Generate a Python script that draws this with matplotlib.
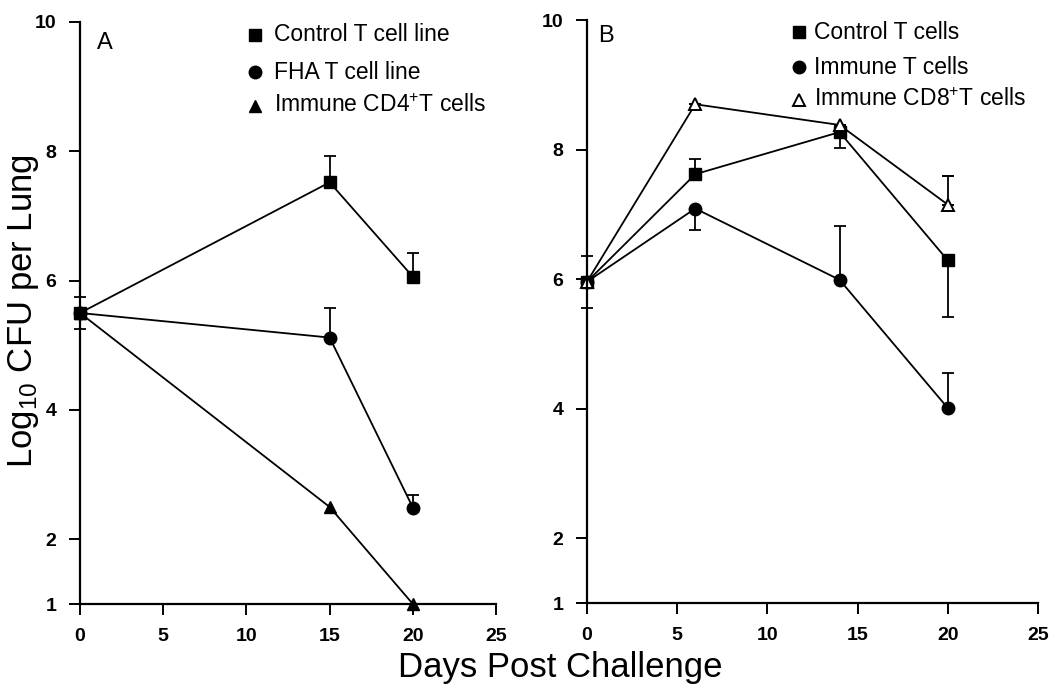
import matplotlib
matplotlib.use("Agg")
import matplotlib.pyplot as plt

plt.rcParams["font.family"] = ["Liberation Sans", "DejaVu Sans"]
plt.rcParams["mathtext.default"] = "regular"

# Panel A data
days_a = [0, 15, 20]
control_a = [5.5, 7.52, 6.06]
control_a_up = [0.25, 0.40, 0.37]
control_a_lo = [0.25, 0.0, 0.0]
fha_a = [5.5, 5.12, 2.49]
fha_a_up = [0.0, 0.46, 0.19]
cd4_a = [5.5, 2.5, 1.0]

# Panel B data
days_b = [0, 6, 14, 20]
control_b = [5.96, 7.62, 8.27, 6.29]
control_b_up = [0.39, 0.23, 0.0, 0.0]
control_b_lo = [0.40, 0.0, 0.24, 0.88]
immune_b = [5.96, 7.09, 5.99, 4.01]
immune_b_up = [0.0, 0.0, 0.83, 0.54]
immune_b_lo = [0.0, 0.33, 0.0, 0.0]
cd8_b = [5.96, 8.70, 8.38, 7.15]
cd8_b_up = [0.0, 0.0, 0.0, 0.44]

labels_a = ["Control T cell line", "FHA T cell line", "Immune CD4$^{+}$T cells"]
labels_b = ["Control T cells", "Immune T cells", "Immune CD8$^{+}$T cells"]

yticks = [1, 2, 4, 6, 8, 10]
xticks = [0, 5, 10, 15, 20, 25]

fig = plt.figure(figsize=(10.49, 6.91), dpi=100)
ax_a = fig.add_axes([0.0763, 0.1259, 0.3966, 0.8423])
ax_b = fig.add_axes([0.5596, 0.1273, 0.4299, 0.8437])

line_kw = dict(color="black", lw=1.3, clip_on=False, capsize=4,
               elinewidth=1.3, capthick=1.3)

sq = dict(marker="s", ms=8)
ci = dict(marker="o", ms=9)
tri = dict(marker="^", ms=9)
otri = dict(marker="^", ms=8, mfc="white", mew=1.4)

# Panel A
ax_a.errorbar(days_a, control_a, yerr=[control_a_lo, control_a_up], **sq, **line_kw)
ax_a.errorbar(days_a, fha_a, yerr=[[0] * 3, fha_a_up], **ci, **line_kw)
ax_a.errorbar(days_a, cd4_a, **tri, **line_kw)

# Panel B
ax_b.errorbar(days_b, control_b, yerr=[control_b_lo, control_b_up], **sq, **line_kw)
ax_b.errorbar(days_b, immune_b, yerr=[immune_b_lo, immune_b_up], **ci, **line_kw)
ax_b.errorbar(days_b, cd8_b, yerr=[[0] * 4, cd8_b_up], **otri, **line_kw)

panels = [
    (ax_a, "A", (0.041, 0.983), labels_a, [sq, ci, tri], 0.421, 0.466, [0.978, 0.914, 0.856]),
    (ax_b, "B", (0.024, 0.991), labels_b, [sq, ci, otri], 0.470, 0.503, [0.979, 0.919, 0.863]),
]

for ax, letter, pos, labels, styles, mx, tx, rows in panels:
    ax.set_xlim(0, 25)
    ax.set_ylim(1, 10)
    ax.set_xticks(xticks)
    ax.set_yticks(yticks)
    ax.spines["top"].set_visible(False)
    ax.spines["right"].set_visible(False)
    for s in ["left", "bottom"]:
        ax.spines[s].set_linewidth(1.6)
    ax.tick_params(direction="out", length=8, width=1.4, labelsize=14, pad=9)
    for lab in ax.get_xticklabels() + ax.get_yticklabels():
        lab.set_fontweight("bold")
    ax.text(pos[0], pos[1], letter, transform=ax.transAxes,
            fontsize=17, va="top", ha="left")
    # legend drawn by hand: marker + label
    for lab, st, ry in zip(labels, styles, rows):
        ax.plot([mx], [ry], transform=ax.transAxes, color="black",
                linestyle="none", clip_on=False, **st)
        ax.text(tx, ry, lab, transform=ax.transAxes, fontsize=16.5,
                va="center", ha="left")

fig.text(0.022, 0.55, "Log$_{10}$ CFU per Lung", rotation=90,
         fontsize=25, ha="center", va="center")
fig.text(0.534, 0.02, "Days Post Challenge", fontsize=25,
         ha="center", va="baseline")

fig.savefig("out.png", dpi=100)
